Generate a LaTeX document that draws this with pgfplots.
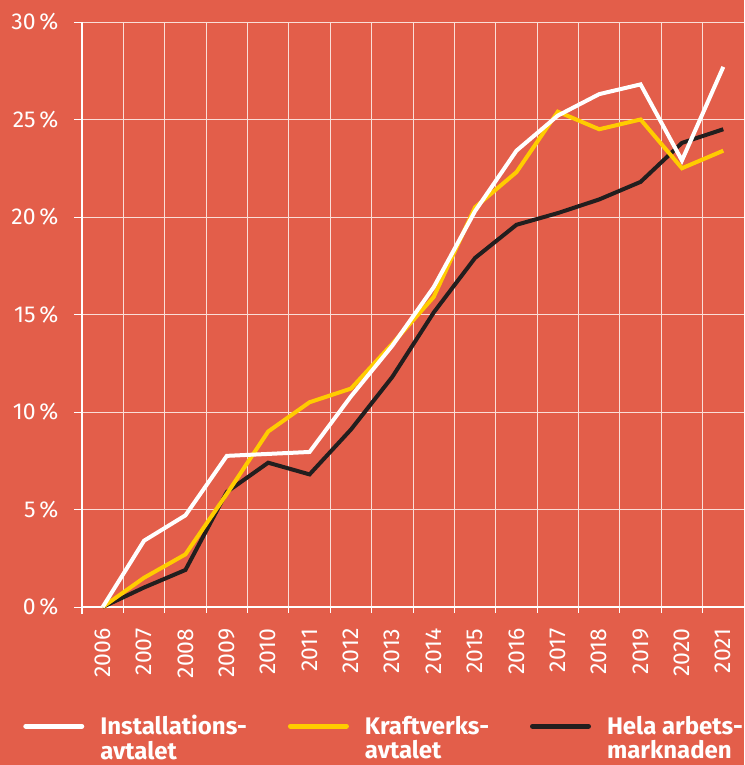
\documentclass[border=0pt]{standalone}
\usepackage{fontspec}
\setmainfont{Fira Sans}
\usepackage{pgfplots}
\pgfplotsset{compat=1.18}
\definecolor{bg}{RGB}{227,94,74}
\definecolor{gold}{RGB}{255,204,0}
\definecolor{blk}{RGB}{34,30,30}
\definecolor{gridc}{RGB}{250,222,216}
\begin{document}
\begin{tikzpicture}[x=1pt,y=1pt]
\fill[bg] (0,0) rectangle (744,765);
\begin{axis}[
  at={(82pt,158pt)}, anchor=south west,
  scale only axis, width=662pt, height=585pt,
  xmin=2005.5, xmax=2021.5, ymin=0, ymax=30,
  clip=false,
  axis lines=left,
  axis line style={-, white, line width=1.8pt},
  y axis line style={shorten <=-7pt},
  xtick={2006,...,2021},
  xticklabels={2006,2007,2008,2009,2010,2011,2012,2013,2014,2015,2016,2017,2018,2019,2020,2021},
  minor xtick={2006.5,2007.5,...,2020.5},
  ytick={0,5,...,30},
  yticklabels={0\,\%,5\,\%,10\,\%,15\,\%,20\,\%,25\,\%,30\,\%},
  xminorgrids=true, ymajorgrids=true,
  grid style={gridc, line width=0.9pt},
  minor grid style={gridc, line width=0.9pt},
  tick align=outside,
  major tick length=8pt, minor tick length=6pt,
  tick style={white, line width=0.9pt},
  major x tick style={draw=none},
  ticklabel style={white, font=\fontsize{23}{23}\selectfont},
  xticklabel style={yshift=-10pt, rotate=90, anchor=east},
  yticklabel style={anchor=east, xshift=-12pt},
  legend columns=3,
  reverse legend,
  legend cell align=left,
  legend style={at={(-0.089,-0.185)}, anchor=north west, draw=none, fill=none,
    inner sep=0pt, nodes={inner sep=0pt, text=white, align=left,
    font=\fontsize{24}{24.5}\selectfont\bfseries},
    /tikz/every odd column/.append style={column sep=16pt},
    /tikz/every even column/.append style={column sep=41pt}},
  legend image code/.code={\draw[#1, line width=5pt, line cap=round] (2.5pt,12pt) -- (58.5pt,12pt);},
]
\addplot[blk, line width=4pt] coordinates {
(2006,0)(2007,1.0)(2008,1.9)(2009,5.9)(2010,7.4)(2011,6.8)(2012,9.1)(2013,11.8)(2014,15.1)(2015,17.9)(2016,19.6)(2017,20.2)(2018,20.9)(2019,21.8)(2020,23.8)(2021,24.5)};
\addlegendentry{Hela arbets-\\marknaden}
\addplot[gold, line width=4pt] coordinates {
(2006,0)(2007,1.5)(2008,2.7)(2009,5.8)(2010,9.0)(2011,10.5)(2012,11.2)(2013,13.5)(2014,15.9)(2015,20.5)(2016,22.3)(2017,25.4)(2018,24.5)(2019,25.0)(2020,22.5)(2021,23.4)};
\addlegendentry{Kraftverks-\\avtalet}
\addplot[white, line width=4pt] coordinates {
(2006,0)(2007,3.4)(2008,4.7)(2009,7.75)(2010,7.85)(2011,7.95)(2012,10.8)(2013,13.4)(2014,16.4)(2015,20.3)(2016,23.4)(2017,25.2)(2018,26.3)(2019,26.8)(2020,22.9)(2021,27.7)};
\addlegendentry{Installations-\\avtalet}
\end{axis}
\pgfresetboundingbox
\useasboundingbox (0,0) rectangle (744,765);
\end{tikzpicture}
\end{document}
